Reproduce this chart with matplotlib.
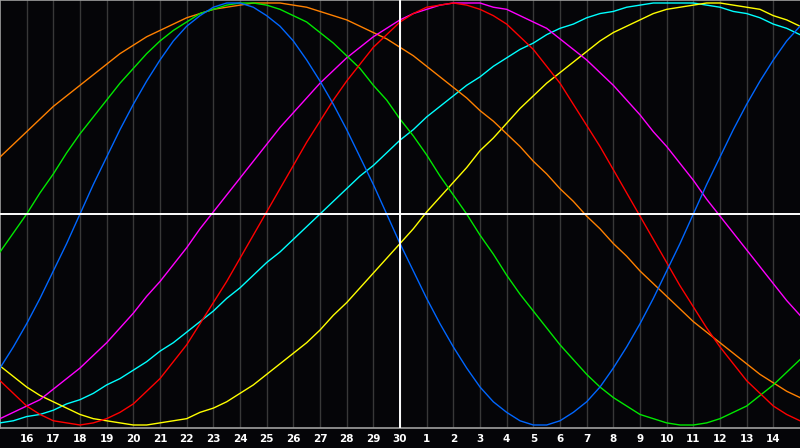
import matplotlib
matplotlib.use('Agg')
import matplotlib.pyplot as plt

day_labels = ['16', '17', '18', '19', '20', '21', '22', '23', '24', '25', '26', '27', '28', '29', '30',
              '1', '2', '3', '4', '5', '6', '7', '8', '9', '10', '11', '12', '13', '14']
today_index = 15
sample_step = 0.5  # readings every half day

blue = [-0.73, -0.63, -0.52, -0.40, -0.27, -0.14, 0.00, 0.14, 0.27, 0.40, 0.52, 0.63, 0.73, 0.82, 0.89, 0.94,
        0.98, 1.00, 1.00, 0.98, 0.94, 0.89, 0.82, 0.73, 0.63, 0.52, 0.40, 0.27, 0.14, 0.00, -0.14, -0.27,
        -0.40, -0.52, -0.63, -0.73, -0.82, -0.89, -0.94, -0.98, -1.00, -1.00, -0.98, -0.94, -0.89, -0.82,
        -0.73, -0.63, -0.52, -0.40, -0.27, -0.14, 0.00, 0.14, 0.27, 0.40, 0.52, 0.63, 0.73, 0.82, 0.89]
red = [-0.79, -0.85, -0.91, -0.95, -0.98, -0.99, -1.00, -0.99, -0.97, -0.94, -0.90, -0.84, -0.78, -0.70, -0.62,
       -0.52, -0.42, -0.32, -0.21, -0.10, 0.01, 0.12, 0.23, 0.34, 0.44, 0.54, 0.63, 0.71, 0.79, 0.85, 0.91,
       0.95, 0.98, 0.99, 1.00, 0.99, 0.97, 0.94, 0.90, 0.84, 0.78, 0.70, 0.62, 0.52, 0.42, 0.32, 0.21, 0.10,
       -0.01, -0.12, -0.23, -0.34, -0.44, -0.54, -0.63, -0.71, -0.79, -0.85, -0.91, -0.95, -0.98]
green = [-0.18, -0.09, 0.00, 0.10, 0.19, 0.29, 0.38, 0.46, 0.54, 0.62, 0.69, 0.76, 0.82, 0.87, 0.91, 0.95,
         0.97, 0.99, 1.00, 1.00, 0.99, 0.97, 0.94, 0.91, 0.86, 0.81, 0.75, 0.69, 0.61, 0.54, 0.45, 0.37,
         0.28, 0.18, 0.09, 0.00, -0.10, -0.19, -0.29, -0.38, -0.46, -0.54, -0.62, -0.69, -0.76, -0.82,
         -0.87, -0.91, -0.95, -0.97, -0.99, -1.00, -1.00, -0.99, -0.97, -0.94, -0.91, -0.86, -0.81, -0.75, -0.69]
magenta = [-0.97, -0.94, -0.91, -0.88, -0.83, -0.78, -0.73, -0.67, -0.61, -0.54, -0.47, -0.39, -0.32, -0.24,
           -0.16, -0.07, 0.01, 0.09, 0.17, 0.25, 0.33, 0.41, 0.48, 0.55, 0.62, 0.68, 0.74, 0.79, 0.84, 0.88,
           0.92, 0.95, 0.97, 0.99, 1.00, 1.00, 1.00, 0.98, 0.97, 0.94, 0.91, 0.88, 0.83, 0.78, 0.73, 0.67,
           0.61, 0.54, 0.47, 0.39, 0.32, 0.24, 0.16, 0.07, -0.01, -0.09, -0.17, -0.25, -0.33, -0.41, -0.48]
yellow = [-0.72, -0.77, -0.82, -0.86, -0.89, -0.92, -0.95, -0.97, -0.98, -0.99, -1.00, -1.00, -0.99, -0.98,
          -0.97, -0.94, -0.92, -0.89, -0.85, -0.81, -0.76, -0.71, -0.66, -0.61, -0.55, -0.48, -0.42, -0.35,
          -0.28, -0.21, -0.14, -0.07, 0.01, 0.08, 0.15, 0.22, 0.30, 0.36, 0.43, 0.50, 0.56, 0.62, 0.67, 0.72,
          0.77, 0.82, 0.86, 0.89, 0.92, 0.95, 0.97, 0.98, 0.99, 1.00, 1.00, 0.99, 0.98, 0.97, 0.94, 0.92, 0.89]
orange = [0.27, 0.33, 0.39, 0.45, 0.51, 0.56, 0.61, 0.66, 0.71, 0.76, 0.80, 0.84, 0.87, 0.90, 0.93, 0.95,
          0.97, 0.98, 0.99, 1.00, 1.00, 1.00, 0.99, 0.98, 0.96, 0.94, 0.92, 0.89, 0.86, 0.83, 0.79, 0.75,
          0.70, 0.65, 0.60, 0.55, 0.49, 0.44, 0.38, 0.32, 0.25, 0.19, 0.12, 0.06, -0.01, -0.07, -0.14, -0.20,
          -0.27, -0.33, -0.39, -0.45, -0.51, -0.56, -0.61, -0.66, -0.71, -0.76, -0.80, -0.84, -0.87]
cyan = [-0.99, -0.98, -0.96, -0.95, -0.93, -0.90, -0.88, -0.85, -0.81, -0.78, -0.74, -0.70, -0.65, -0.61,
        -0.56, -0.51, -0.46, -0.40, -0.35, -0.29, -0.23, -0.18, -0.12, -0.06, 0.00, 0.06, 0.12, 0.18, 0.23,
        0.29, 0.35, 0.40, 0.46, 0.51, 0.56, 0.61, 0.65, 0.70, 0.74, 0.78, 0.81, 0.85, 0.88, 0.90, 0.93,
        0.95, 0.96, 0.98, 0.99, 1.00, 1.00, 1.00, 1.00, 0.99, 0.98, 0.96, 0.95, 0.93, 0.90, 0.88, 0.85]

series = [
    (cyan, '#00ffff'),
    (yellow, '#ffff00'),
    (orange, '#ff8000'),
    (magenta, '#ff00ff'),
    (green, '#00e800'),
    (red, '#ff0000'),
    (blue, '#0066ff'),
]

fig = plt.figure(figsize=(8, 4.48), dpi=100)
fig.patch.set_facecolor('#050508')
ax = fig.add_axes([0, 20 / 448, 1, 428 / 448])
ax.set_facecolor('#050508')

n_days = len(day_labels) + 1
for i in range(1, n_days):
    ax.axvline(i, color='#383838', lw=1.0, zorder=1)

for vals, col in series:
    xs = [i * sample_step for i in range(len(vals))]
    ax.plot(xs, vals, color=col, lw=1.0, zorder=3)

ax.axvline(today_index, color='white', lw=1.4, zorder=4)
ax.axhline(0, color='white', lw=1.4, zorder=4)

ax.set_xlim(0, n_days)
ax.set_ylim(-214 / 211, 214 / 211)
ax.set_xticks(range(1, n_days))
ax.set_xticklabels(day_labels, color='white', fontsize=7.5, fontweight='bold', family='DejaVu Sans')
ax.tick_params(axis='x', length=0, pad=4)
ax.set_yticks([])
for side in ['left', 'top', 'bottom']:
    ax.spines[side].set_color('#a0a0a0')
    ax.spines[side].set_linewidth(1.2)
ax.spines['right'].set_visible(False)

fig.savefig('out.png', dpi=100, facecolor=fig.get_facecolor())
